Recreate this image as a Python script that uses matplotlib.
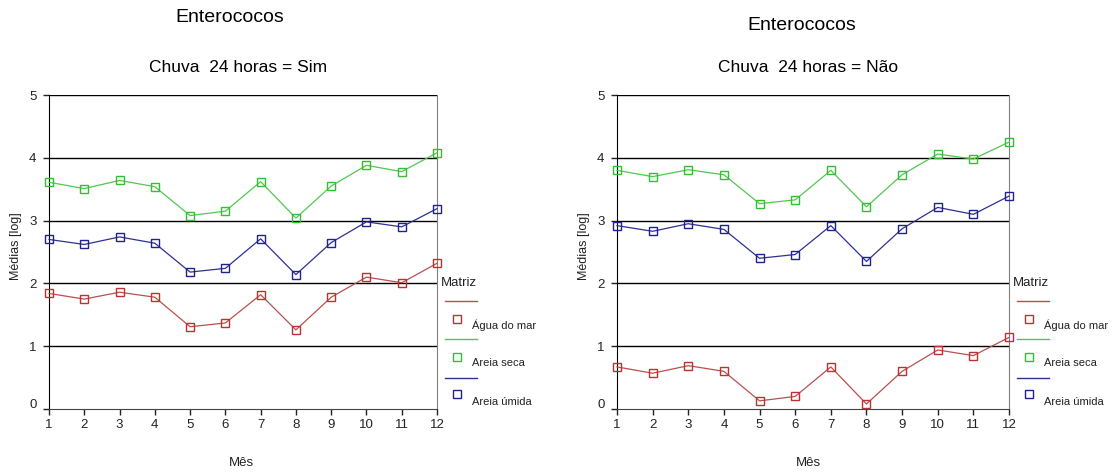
import matplotlib
matplotlib.use("Agg")
import matplotlib.pyplot as plt
from matplotlib.lines import Line2D
from matplotlib.transforms import ScaledTranslation

plt.rcParams['font.family'] = ['Liberation Sans', 'DejaVu Sans']

months = list(range(1, 13))
series_names = ["Água do mar", "Areia seca", "Areia úmida"]

sim_agua = [1.84, 1.75, 1.86, 1.78, 1.31, 1.37, 1.82, 1.26, 1.78, 2.10, 2.01, 2.32]
sim_seca = [3.61, 3.51, 3.64, 3.54, 3.08, 3.15, 3.62, 3.04, 3.55, 3.88, 3.78, 4.08]
sim_umida = [2.70, 2.62, 2.74, 2.64, 2.18, 2.24, 2.71, 2.14, 2.65, 2.98, 2.90, 3.19]

nao_agua = [0.67, 0.57, 0.69, 0.60, 0.13, 0.20, 0.67, 0.08, 0.60, 0.94, 0.85, 1.14]
nao_seca = [3.80, 3.70, 3.81, 3.73, 3.27, 3.33, 3.80, 3.22, 3.73, 4.06, 3.98, 4.25]
nao_umida = [2.92, 2.83, 2.95, 2.86, 2.40, 2.46, 2.92, 2.35, 2.87, 3.21, 3.10, 3.39]

yticks = [0, 1, 2, 3, 4, 5]

line_colors = ['#b85050', '#50c850', '#303090']
mark_colors = ['#c03030', '#30c030', '#202090']

W, H = 1112, 472
fig = plt.figure(figsize=(W / 100, H / 100), dpi=100)


def fx(px):
    return px / W


def fy(py):
    return 1 - py / H


def make_panel(x0, x1, data, title2, t1, t2, ylab_x, xlab_x, leg_x):
    ax = fig.add_axes([fx(x0), fy(409), fx(x1) - fx(x0), fy(95) - fy(409)])
    for vals, lc, mc in zip(data, line_colors, mark_colors):
        ax.plot(months, vals, color=lc, lw=0.9, marker='s', markersize=6,
                markerfacecolor='none', markeredgecolor=mc, markeredgewidth=1.0,
                clip_on=False, zorder=3)
    ax.set_xlim(1, 12)
    ax.set_ylim(0, 5)
    ax.set_xticks(months)
    ax.set_yticks(yticks)
    for v in yticks[1:]:
        ax.axhline(v, color='black', lw=1.0, zorder=1)
    ax.tick_params(axis='both', direction='out', length=4, width=1, labelsize=9.5,
                   colors='#222222')
    ax.tick_params(axis='y', pad=5)
    ax.tick_params(axis='x', pad=3)
    # raise the "0" label slightly as in the reference
    fig.canvas.draw()
    lbl0 = ax.get_yticklabels()[0]
    lbl0.set_transform(lbl0.get_transform() + ScaledTranslation(0, 6 / 100, fig.dpi_scale_trans))
    ax.spines['left'].set_color('black')
    ax.spines['bottom'].set_color('#444444')
    ax.spines['right'].set_color('#808080')
    ax.spines['top'].set_visible(False)
    fig.text(fx(t1[0]), fy(t1[1]), "Enterococos", ha='center', va='center', fontsize=14)
    fig.text(fx(t2[0]), fy(t2[1]), title2, ha='center', va='center', fontsize=12.5)
    fig.text(fx(ylab_x), fy(246), "Médias [log]", ha='center', va='center', rotation=90,
             fontsize=9, color='#222222')
    fig.text(fx(xlab_x), fy(463), "Mês", ha='center', va='center', fontsize=9.5, color='#222222')
    # legend
    fig.text(fx(leg_x - 4), fy(283), "Matriz", ha='left', va='center', fontsize=9.5, color='#222222')
    line_y = [301, 339, 378]
    mark_y = [319, 357, 394]
    text_y = [325, 363, 402]
    for name, lc, mc, ly, my, ty in zip(series_names, line_colors, mark_colors, line_y, mark_y, text_y):
        fig.add_artist(Line2D([fx(leg_x), fx(leg_x + 32)], [fy(ly), fy(ly)], color=lc, lw=1.0,
                              transform=fig.transFigure))
        fig.add_artist(Line2D([fx(leg_x + 12)], [fy(my)], marker='s', markersize=5.5,
                              markerfacecolor='none', markeredgecolor=mc, markeredgewidth=1.0,
                              linestyle='none', transform=fig.transFigure))
        fig.text(fx(leg_x + 27), fy(ty), name, ha='left', va='center', fontsize=8, color='#222222')
    return ax


make_panel(49, 437, [sim_agua, sim_seca, sim_umida], "Chuva  24 horas = Sim",
           (229.5, 18), (238, 67), 16, 241, 445)
make_panel(617, 1009, [nao_agua, nao_seca, nao_umida], "Chuva  24 horas = Não",
           (802, 25), (808, 68), 584, 808, 1017)

fig.savefig("out.png", dpi=100, facecolor='white')
